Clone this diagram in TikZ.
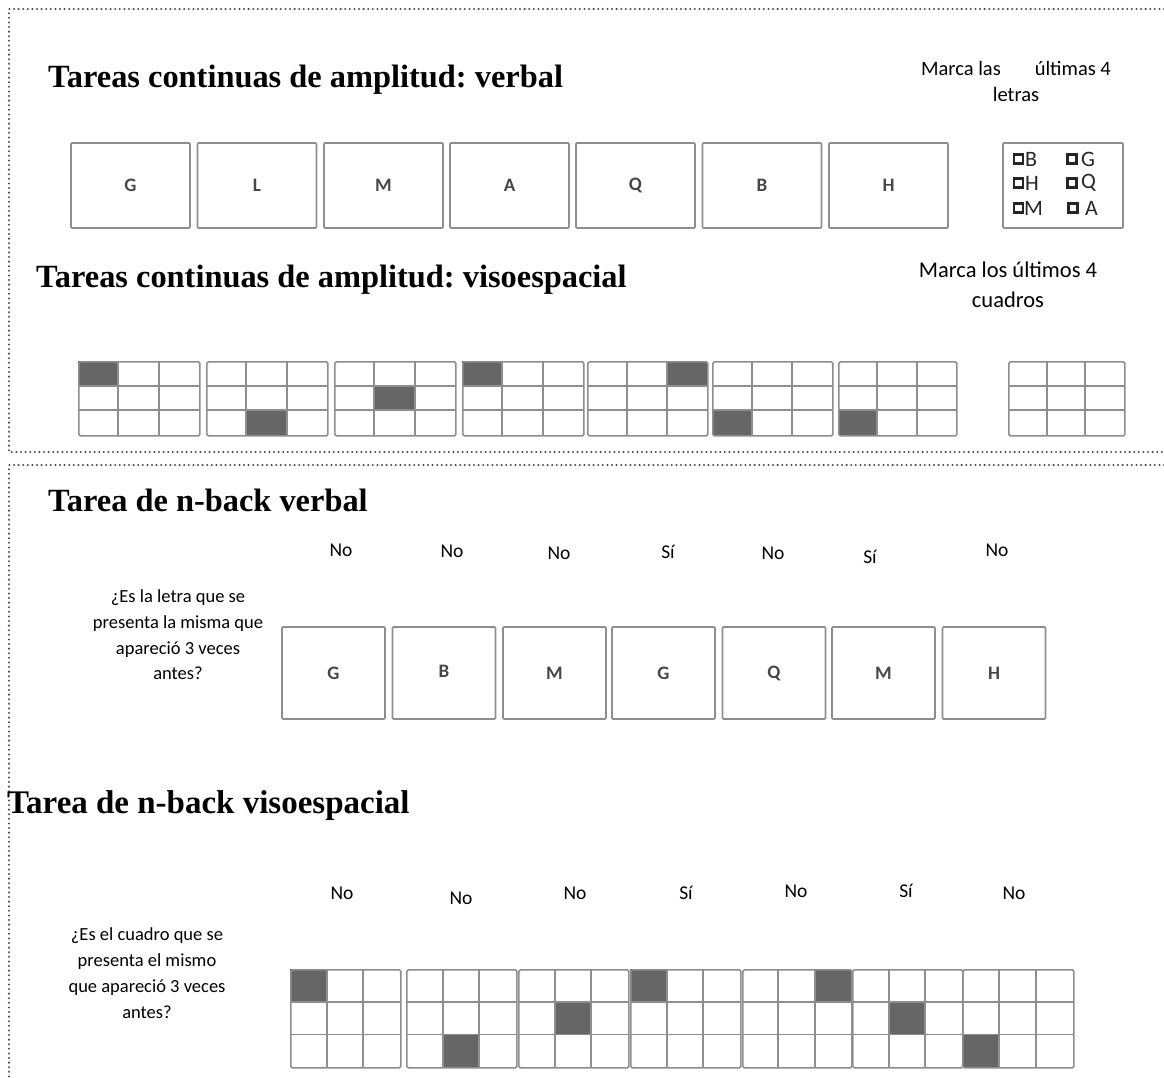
\documentclass[tikz,border=0pt]{standalone}
\usepackage{fontspec}
\setmainfont{Liberation Serif}
\newfontfamily\calfont{Carlito}
\usetikzlibrary{calc}
\frenchspacing
\definecolor{shadec}{HTML}{666666}
\definecolor{linec}{HTML}{8E8E8E}
\definecolor{dotc}{HTML}{505050}
\tikzset{
 dotline/.style={dotc, line width=2.3pt, line cap=round, dash pattern=on 0pt off 4.6pt},
 ttl/.style={font=\fontsize{32.4}{38}\selectfont\bfseries, anchor=west, inner sep=0pt},
 lbox/.style={draw=linec, line width=1.6pt, rounded corners=1pt, inner sep=0pt, font=\calfont\fontsize{19}{20}\selectfont\bfseries, text=black!72},
 lboxA/.style={lbox, minimum width=119pt, minimum height=85pt},
 lboxB/.style={lbox, minimum width=103pt, minimum height=92pt},
 ansl/.style={font=\calfont\fontsize{22}{22}\selectfont, inner sep=0pt, anchor=west, text=black!85},
 chk/.style={draw=black!85, line width=2.4pt, minimum size=9pt, inner sep=0pt},
 note/.style={align=center, inner sep=0pt, text=black},
 yn/.style={font=\calfont\fontsize{19.5}{22}\selectfont, inner sep=0pt},
 gline/.style={draw=linec, line width=1.7pt},
}
\newcommand{\wmgrid}[7]{%
 \pgfmathsetmacro\gcw{#4/3}\pgfmathsetmacro\gch{#5/3}%
 \ifnum#6>-1 \fill[shadec] ({#2+#7*\gcw},{#3+#6*\gch}) rectangle ++(\gcw,\gch);\fi
 \foreach \k in {1,2} {
   \draw[gline] ({#2+\k*\gcw},#3) -- ++(0,#5);
   \draw[gline] (#2,{#3+\k*\gch}) -- ++(#4,0);
 }
 \node[draw=linec, line width=1.7pt, rounded corners=1.5pt, minimum width=#4pt, minimum height=#5pt, anchor=north west, inner sep=0pt] (#1) at (#2,#3) {};
}
\begin{document}
\begin{tikzpicture}[x=1pt,y=-1pt]
\useasboundingbox (0,0) rectangle (1164,1077);
\fill[white] (0,0) rectangle (1164,1077);
% frames
\coordinate (fa) at (9,9);
\coordinate (fb) at (1164,9);
\coordinate (fc) at (9,452);
\coordinate (fd) at (1164,452);
\coordinate (fe) at (1164,465);
\coordinate (ff) at (9,465);
\coordinate (fg) at (9,1077);
\draw[dotline] (fb) -- (fa) -- (fc) -- (fd);
\draw[dotline] (fe) -- (ff) -- (fg);

% ---------- section 1 ----------
\node[ttl] (t1) at (48,80) {Tareas continuas de amplitud: verbal};
\node[note, font=\calfont\fontsize{20.5}{26}\selectfont] (n1) at (1016,81) {Marca las\hspace{34pt}últimas 4\\letras};

\node[lboxA] (a1) at (130.5,185.5) {G};
\node[lboxA] (a2) at (257,185.5) {L};
\node[lboxA] (a3) at (383.5,185.5) {M};
\node[lboxA] (a4) at (509.5,185.5) {A};
\node[lboxA] (a5) at (635.5,185.5) {Q};
\node[lboxA] (a6) at (762,185.5) {B};
\node[lboxA] (a7) at (888.5,185.5) {H};

\node[draw=linec, line width=1.6pt, rounded corners=1pt, minimum width=120pt, minimum height=85pt, inner sep=0pt] (ansbox) at (1063,185.5) {};
\node[chk] (k1) at (1018.5,159) {};
\node[ansl] (l1) at (1025,159) {B};
\node[chk] (k2) at (1072,159) {};
\node[ansl] (l2) at (1081,159) {G};
\node[chk] (k3) at (1018.5,183) {};
\node[ansl] (l3) at (1025,183) {H};
\node[chk] (k4) at (1072,183) {};
\node[ansl] (l4) at (1081,183) {Q};
\node[chk] (k5) at (1018.5,208) {};
\node[ansl] (l5) at (1024,208) {M};
\node[chk] (k6) at (1073,208) {};
\node[ansl] (l6) at (1085,208) {A};

\node[ttl] (t2) at (36,280) {Tareas continuas de amplitud: visoespacial};
\node[note, font=\calfont\fontsize{22.5}{30}\selectfont] (n2) at (1008,285) {Marca los últimos 4\\cuadros};

\wmgrid{g1}{78}{361}{121}{74}{0}{0}
\wmgrid{g2}{206}{361}{121}{74}{2}{1}
\wmgrid{g3}{334}{361}{121}{74}{1}{1}
\wmgrid{g4}{462}{361}{121}{74}{0}{0}
\wmgrid{g5}{587}{361}{120}{74}{0}{2}
\wmgrid{g6}{712}{361}{120}{74}{2}{0}
\wmgrid{g7}{838}{361}{118}{74}{2}{0}
\wmgrid{g8}{1008}{361}{116}{74}{-1}{0}

% ---------- section 2 ----------
\node[ttl] (t3) at (48,500) {Tarea de n-back verbal};
\node[yn] (y1) at (341,550) {No};
\node[yn] (y2) at (452,551) {No};
\node[yn] (y3) at (559,553) {No};
\node[yn] (y4) at (668,552) {Sí};
\node[yn] (y5) at (773,553) {No};
\node[yn] (y6) at (870,557) {Sí};
\node[yn] (y7) at (997,550) {No};
\node[note, font=\calfont\fontsize{18.5}{25.7}\selectfont] (q1) at (178,635) {¿Es la letra que se\\presenta la misma que\\apareció 3 veces\\antes?};

\node[lboxB] (b1) at (333.5,673) {G};
\node[lboxB] (b2) at (444,673) {\raisebox{4pt}{B}};
\node[lboxB] (b3) at (554.5,673) {M};
\node[lboxB] (b4) at (663.5,673) {G};
\node[lboxB] (b5) at (774,673) {Q};
\node[lboxB] (b6) at (883.5,673) {M};
\node[lboxB] (b7) at (994,673) {H};

\node[ttl, font=\fontsize{33}{38}\selectfont\bfseries] (t4) at (7,806) {Tarea de n-back visoespacial};
\node[yn] (z1) at (342,893) {No};
\node[yn] (z2) at (461,898) {No};
\node[yn] (z3) at (575,893) {No};
\node[yn] (z4) at (686,893) {Sí};
\node[yn] (z5) at (796,891) {No};
\node[yn] (z6) at (906,891) {Sí};
\node[yn] (z7) at (1014,893) {No};
\node[note, font=\calfont\fontsize{18.5}{26}\selectfont] (q2) at (147,973) {¿Es el cuadro que se\\presenta el mismo\\que apareció 3 veces\\antes?};

\wmgrid{h1}{290}{969}{110}{98}{0}{0}
\wmgrid{h2}{406}{969}{110}{98}{2}{1}
\wmgrid{h3}{518}{969}{110}{98}{1}{1}
\wmgrid{h4}{630}{969}{110}{98}{0}{0}
\wmgrid{h5}{742}{969}{109}{98}{0}{2}
\wmgrid{h6}{852}{969}{110}{98}{1}{1}
\wmgrid{h7}{962}{969}{111}{98}{2}{0}
\end{tikzpicture}
\end{document}
